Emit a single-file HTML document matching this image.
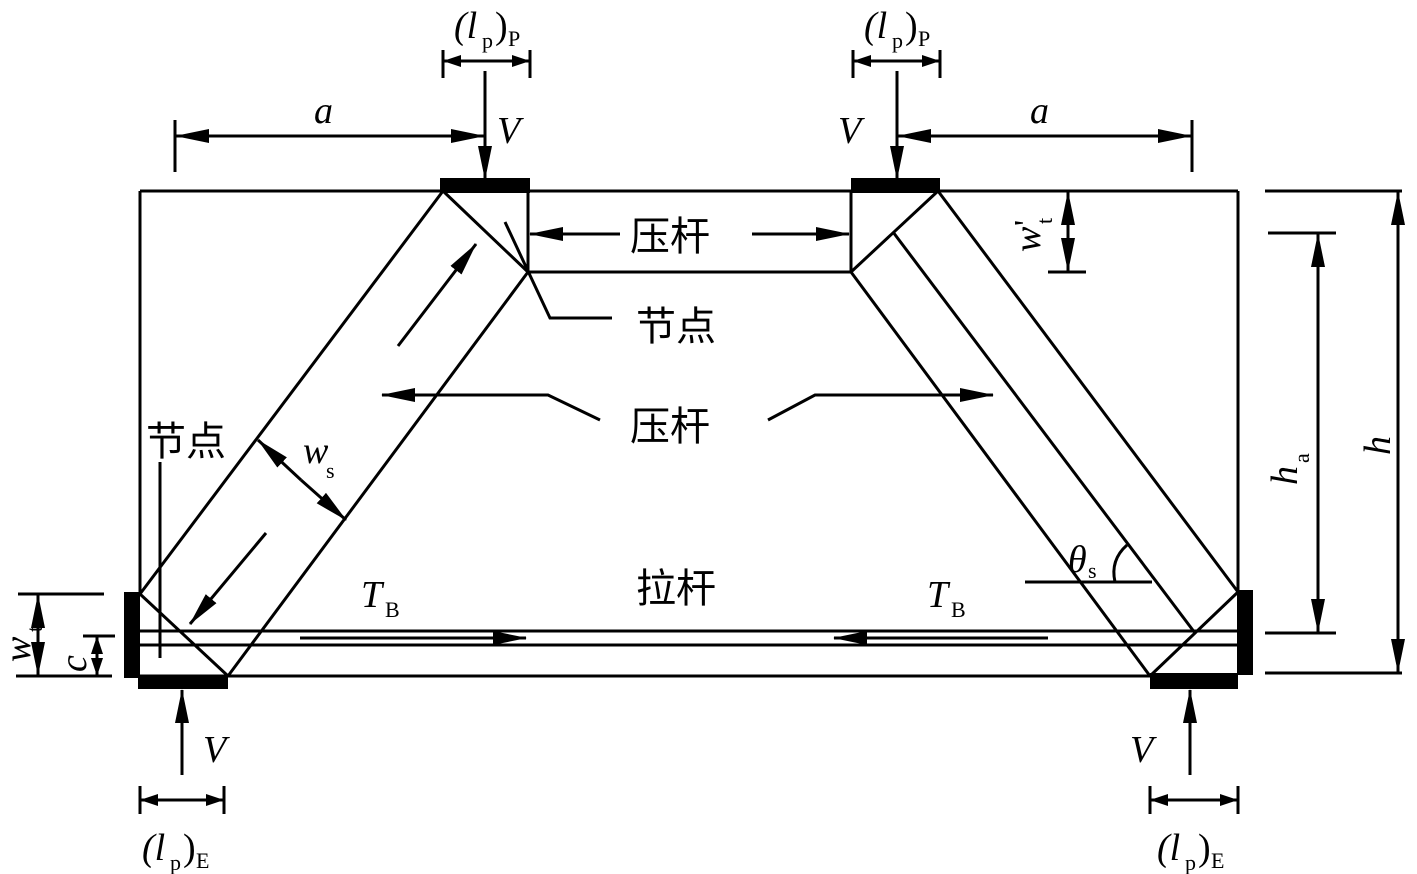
<!DOCTYPE html>
<html><head><meta charset="utf-8"><style>
html,body{margin:0;padding:0;background:#fff;}
svg{display:block;}
text{font-family:"Liberation Serif","Noto Serif CJK SC",serif;fill:#000;}
.cn{font-family:"Liberation Sans","Noto Sans CJK SC",sans-serif;font-size:40px;}
.it{font-style:italic;font-size:38px;}
.sb{font-size:22px;}
</style></head><body>
<svg width="1417" height="874" viewBox="0 0 1417 874" xmlns="http://www.w3.org/2000/svg">
<defs>
<marker id="ah" markerWidth="34" markerHeight="14" refX="33" refY="7" orient="auto" markerUnits="userSpaceOnUse"><path d="M0,0 L34,7 L0,14 Z" fill="#000"/></marker>
<marker id="as" markerWidth="18" markerHeight="12" refX="17" refY="6" orient="auto" markerUnits="userSpaceOnUse"><path d="M0,0 L18,6 L0,12 Z" fill="#000"/></marker>
</defs>
<g stroke="#000" stroke-width="3" fill="none">
<line x1="140" y1="191" x2="1238" y2="191"/>
<line x1="140" y1="191" x2="140" y2="594"/>
<line x1="1238" y1="191" x2="1238" y2="592"/>
<line x1="140" y1="676" x2="1238" y2="676"/>
<line x1="140" y1="631" x2="1238" y2="631"/>
<line x1="140" y1="645" x2="1238" y2="645"/>
<line x1="140" y1="594" x2="443" y2="191"/>
<line x1="228" y1="676" x2="528" y2="272"/>
<line x1="140" y1="594" x2="228" y2="676"/>
<line x1="443" y1="191" x2="528" y2="272"/>
<line x1="528" y1="191" x2="528" y2="272"/>
<line x1="528" y1="272" x2="851" y2="272"/>
<line x1="851" y1="191" x2="851" y2="272"/>
<line x1="938" y1="191" x2="851" y2="272"/>
<line x1="938" y1="191" x2="1238" y2="592"/>
<line x1="851" y1="272" x2="1150" y2="676"/>
<line x1="893" y1="232" x2="1195" y2="633"/>
<line x1="1238" y1="592" x2="1150" y2="676"/>
</g>
<g fill="#000">
<rect x="440" y="178" width="90" height="15"/>
<rect x="851" y="178" width="89" height="15"/>
<rect x="124" y="592" width="16" height="86"/>
<rect x="138" y="676" width="90" height="13"/>
<rect x="1237" y="590" width="16" height="85"/>
<rect x="1150" y="673" width="88" height="16"/>
</g>
<g stroke="#000" stroke-width="3" fill="none">
<line x1="443" y1="50" x2="443" y2="78"/><line x1="530" y1="50" x2="530" y2="78"/>
<line x1="486" y1="61" x2="444" y2="61" marker-end="url(#as)"/>
<line x1="486" y1="61" x2="529" y2="61" marker-end="url(#as)"/>
<line x1="485" y1="71" x2="485" y2="179" marker-end="url(#ah)"/>
<line x1="175" y1="120" x2="175" y2="172"/>
<line x1="330" y1="136" x2="176" y2="136" marker-end="url(#ah)"/>
<line x1="330" y1="136" x2="484" y2="136" marker-end="url(#ah)"/>
<line x1="853" y1="50" x2="853" y2="78"/><line x1="940" y1="50" x2="940" y2="78"/>
<line x1="896" y1="61" x2="854" y2="61" marker-end="url(#as)"/>
<line x1="896" y1="61" x2="939" y2="61" marker-end="url(#as)"/>
<line x1="897" y1="71" x2="897" y2="179" marker-end="url(#ah)"/>
<line x1="1192" y1="120" x2="1192" y2="172"/>
<line x1="1045" y1="136" x2="898" y2="136" marker-end="url(#ah)"/>
<line x1="1045" y1="136" x2="1191" y2="136" marker-end="url(#ah)"/>
<line x1="182" y1="775" x2="182" y2="690" marker-end="url(#ah)"/>
<line x1="140" y1="786" x2="140" y2="814"/><line x1="224" y1="786" x2="224" y2="814"/>
<line x1="182" y1="800" x2="141" y2="800" marker-end="url(#as)"/>
<line x1="182" y1="800" x2="223" y2="800" marker-end="url(#as)"/>
<line x1="1190" y1="775" x2="1190" y2="690" marker-end="url(#ah)"/>
<line x1="1150" y1="786" x2="1150" y2="814"/><line x1="1238" y1="786" x2="1238" y2="814"/>
<line x1="1194" y1="800" x2="1151" y2="800" marker-end="url(#as)"/>
<line x1="1194" y1="800" x2="1237" y2="800" marker-end="url(#as)"/>
<line x1="1265" y1="191" x2="1402" y2="191"/>
<line x1="1268" y1="233" x2="1336" y2="233"/>
<line x1="1265" y1="633" x2="1336" y2="633"/>
<line x1="1265" y1="673" x2="1402" y2="673"/>
<line x1="1398" y1="430" x2="1398" y2="192" marker-end="url(#ah)"/>
<line x1="1398" y1="430" x2="1398" y2="672" marker-end="url(#ah)"/>
<line x1="1318" y1="430" x2="1318" y2="234" marker-end="url(#ah)"/>
<line x1="1318" y1="430" x2="1318" y2="632" marker-end="url(#ah)"/>
<line x1="1048" y1="272" x2="1086" y2="272"/>
<line x1="1068" y1="232" x2="1068" y2="192" marker-end="url(#ah)"/>
<line x1="1068" y1="232" x2="1068" y2="271" marker-end="url(#ah)"/>
<line x1="18" y1="594" x2="104" y2="594"/>
<line x1="16" y1="676" x2="112" y2="676"/>
<line x1="83" y1="636" x2="115" y2="636"/>
<line x1="38" y1="635" x2="38" y2="595" marker-end="url(#ah)"/>
<line x1="38" y1="635" x2="38" y2="675" marker-end="url(#ah)"/>
<line x1="97" y1="656" x2="97" y2="637" marker-end="url(#as)"/>
<line x1="97" y1="656" x2="97" y2="675" marker-end="url(#as)"/>
<line x1="620" y1="234" x2="530" y2="234" marker-end="url(#ah)"/>
<line x1="752" y1="234" x2="849" y2="234" marker-end="url(#ah)"/>
<polyline points="505,222 550,318 612,318"/>
<polyline points="600,420 548,395 382,395"/>
<line x1="548" y1="395" x2="382" y2="395" marker-end="url(#ah)"/>
<polyline points="768,420 815,395 993,395"/>
<line x1="815" y1="395" x2="993" y2="395" marker-end="url(#ah)"/>
<line x1="398" y1="346" x2="476" y2="244" marker-end="url(#ah)"/>
<line x1="266" y1="533" x2="190" y2="624" marker-end="url(#ah)"/>
<line x1="301" y1="480" x2="258" y2="440" marker-end="url(#ah)"/>
<line x1="301" y1="480" x2="346" y2="520" marker-end="url(#ah)"/>
<line x1="160" y1="462" x2="160" y2="658"/>
<line x1="300" y1="638" x2="526" y2="638" marker-end="url(#ah)"/>
<line x1="1048" y1="638" x2="834" y2="638" marker-end="url(#ah)"/>
<line x1="1025" y1="582" x2="1152" y2="582"/>
<path d="M1127,545 Q1110,560 1115,582"/>
</g>
<text x="454" y="38" class="it">(l</text><text x="482" y="48" class="sb">p</text><text x="495" y="38" style="font-size:38px">)</text><text x="508" y="46" class="sb">P</text>
<text x="864" y="38" class="it">(l</text><text x="892" y="48" class="sb">p</text><text x="905" y="38" style="font-size:38px">)</text><text x="918" y="46" class="sb">P</text>
<text x="314" y="123" class="it">a</text>
<text x="1030" y="123" class="it">a</text>
<text x="497" y="143" class="it">V</text>
<text x="838" y="143" class="it">V</text>
<text x="203" y="762" class="it">V</text>
<text x="1130" y="762" class="it">V</text>
<text x="142" y="860" class="it">(l</text><text x="170" y="870" class="sb">p</text><text x="183" y="860" style="font-size:38px">)</text><text x="196" y="868" class="sb">E</text>
<text x="1157" y="860" class="it">(l</text><text x="1185" y="870" class="sb">p</text><text x="1198" y="860" style="font-size:38px">)</text><text x="1211" y="868" class="sb">E</text>
<text x="630" y="250" class="cn">压杆</text>
<text x="636" y="340" class="cn">节点</text>
<text x="630" y="440" class="cn">压杆</text>
<text x="146" y="455" class="cn">节点</text>
<text x="636" y="602" class="cn">拉杆</text>
<text x="361" y="607" class="it">T</text><text x="385" y="617" class="sb">B</text>
<text x="927" y="607" class="it">T</text><text x="951" y="617" class="sb">B</text>
<text x="1068" y="572" class="it">θ</text><text x="1088" y="578" class="sb">s</text>
<text x="303" y="463" class="it">w</text><text x="326" y="478" class="sb">s</text>
<g transform="translate(1040,252) rotate(-90)"><text x="0" y="0" class="it">w</text><text x="28" y="12" class="sb">t</text><text x="26" y="-3" style="font-size:34px">'</text></g>
<g transform="translate(1297,485) rotate(-90)"><text x="0" y="0" class="it">h</text><text x="22" y="12" class="sb">a</text></g>
<g transform="translate(1390,455) rotate(-90)"><text x="0" y="0" class="it">h</text></g>
<g transform="translate(30,662) rotate(-90)"><text x="0" y="0" class="it">w</text><text x="30" y="12" class="sb">t</text></g>
<g transform="translate(86,672) rotate(-90)"><text x="0" y="0" class="it">c</text></g>
</svg>
</body></html>
